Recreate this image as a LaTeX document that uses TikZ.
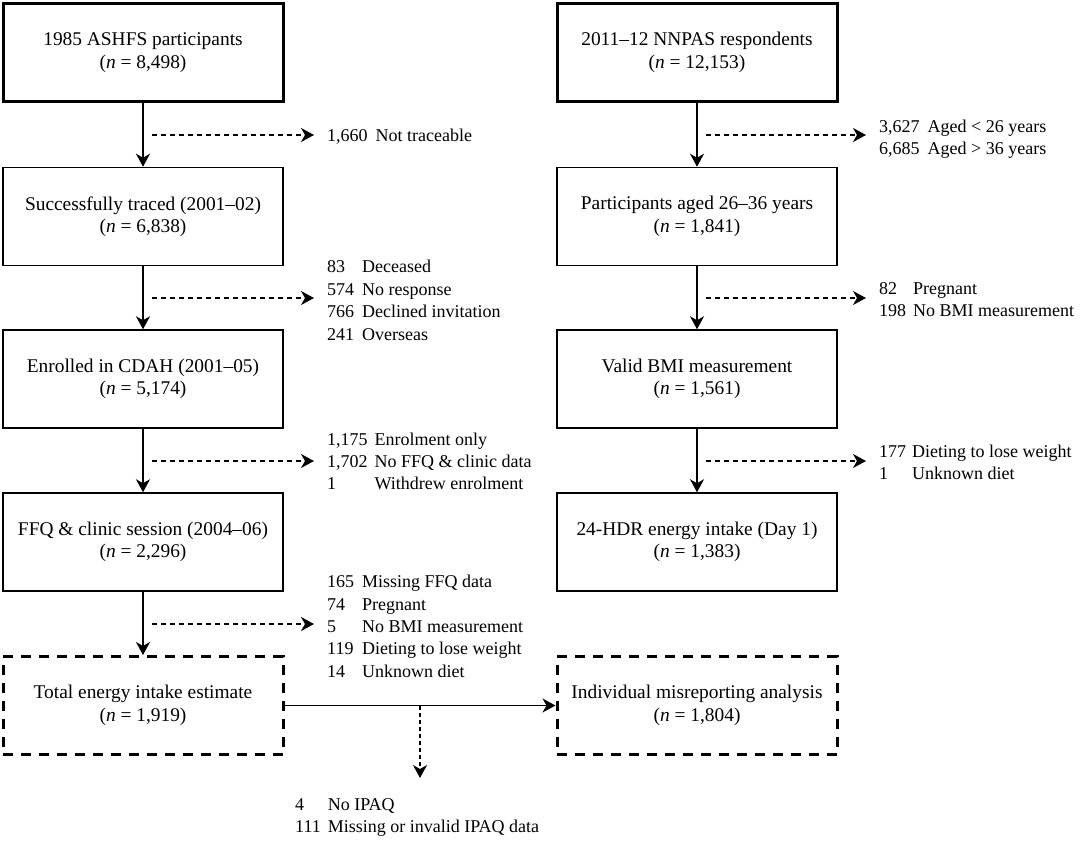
\documentclass[tikz,border=0pt]{standalone}
\usepackage{fontspec}
\setmainfont{Liberation Serif}
\usetikzlibrary{arrows.meta}
\begin{document}
\begin{tikzpicture}[x=1pt,y=-1pt,
  txt/.style={font=\fontsize{19.4}{22.4}\selectfont},
  box/.style={draw, line width=1.5pt, minimum width=280pt, minimum height=98pt, align=center, inner sep=0pt, txt},
  thickbox/.style={box, line width=3pt},
  dbox/.style={box, line width=3pt, dash pattern=on 10pt off 8pt},
  flow/.style={line width=1.5pt, -{Stealth[length=13pt,width=14pt,inset=4pt]}},
  excl/.style={line width=1.3pt, dash pattern=on 5pt off 4pt, -{Stealth[length=13pt,width=14pt,inset=4pt]}},
  lst/.style={anchor=west, inner sep=0pt, font=\fontsize{18}{22.4}\selectfont}]
\useasboundingbox (0,0) rectangle (1084,847);
\fill[white] (0,0) rectangle (1084,847);

% left column
\node[thickbox] (L1) at (143,52.5) {1985 ASHFS participants\\(\textit{n} = 8,498)};
\node[box] (L2) at (143,216.5) {Successfully traced (2001--02)\\(\textit{n} = 6,838)};
\node[box] (L3) at (143,379) {Enrolled in CDAH (2001--05)\\(\textit{n} = 5,174)};
\node[box] (L4) at (143,542) {FFQ \& clinic session (2004--06)\\(\textit{n} = 2,296)};
\node[dbox] (L5) at (143,705.5) {Total energy intake estimate\\(\textit{n} = 1,919)};

% right column
\node[thickbox] (R1) at (697,52.5) {2011--12 NNPAS respondents\\(\textit{n} = 12,153)};
\node[box] (R2) at (697,216.5) {Participants aged 26--36 years\\(\textit{n} = 1,841)};
\node[box] (R3) at (697,379) {Valid BMI measurement\\(\textit{n} = 1,561)};
\node[box] (R4) at (697,542) {24-HDR energy intake (Day 1)\\(\textit{n} = 1,383)};
\node[dbox] (R5) at (697,705.5) {Individual misreporting analysis\\(\textit{n} = 1,804)};

% main flow
\draw[flow] (L1) -- (L2);
\draw[flow] (L2) -- (L3);
\draw[flow] (L3) -- (L4);
\draw[flow] (L4) -- (L5);
\draw[flow] (R1) -- (R2);
\draw[flow] (R2) -- (R3);
\draw[flow] (R3) -- (R4);
\draw[flow] (L5) -- (R5);

% exclusion arrows, left
\coordinate (a1s) at (152,135); \coordinate (a1e) at (314,135);
\coordinate (a2s) at (152,298); \coordinate (a2e) at (314,298);
\coordinate (a3s) at (152,461); \coordinate (a3e) at (314,461);
\coordinate (a4s) at (152,624); \coordinate (a4e) at (314,624);
\draw[excl] (a1s) -- (a1e);
\draw[excl] (a2s) -- (a2e);
\draw[excl] (a3s) -- (a3e);
\draw[excl] (a4s) -- (a4e);

% exclusion arrows, right
\coordinate (b1s) at (706,135); \coordinate (b1e) at (866,135);
\coordinate (b2s) at (706,298); \coordinate (b2e) at (866,298);
\coordinate (b3s) at (706,461); \coordinate (b3e) at (866,461);
\draw[excl] (b1s) -- (b1e);
\draw[excl] (b2s) -- (b2e);
\draw[excl] (b3s) -- (b3e);

% bottom dotted arrow
\coordinate (c1s) at (420,705.5); \coordinate (c1e) at (420,778);
\draw[line width=1.2pt, dash pattern=on 4pt off 3pt, -{Stealth[length=13pt,width=14pt,inset=4pt]}] (c1s) -- (c1e);

% exclusion lists
\node[lst] (t1) at (327,137) {\begin{tabular}{@{}l@{\hspace{8pt}}l@{}}1,660 & Not traceable\end{tabular}};
\node[lst] (t2) at (327,302) {\begin{tabular}{@{}l@{\hspace{8pt}}l@{}}83 & Deceased\\574 & No response\\766 & Declined invitation\\241 & Overseas\end{tabular}};
\node[lst] (t3) at (327,463) {\begin{tabular}{@{}l@{\hspace{7pt}}l@{}}1,175 & Enrolment only\\1,702 & No FFQ \& clinic data\\1 & Withdrew enrolment\end{tabular}};
\node[lst] (t4) at (327,628) {\begin{tabular}{@{}l@{\hspace{8pt}}l@{}}165 & Missing FFQ data\\74 & Pregnant\\5 & No BMI measurement\\119 & Dieting to lose weight\\14 & Unknown diet\end{tabular}};

\node[lst] (u1) at (879,139) {\begin{tabular}{@{}l@{\hspace{8pt}}l@{}}3,627 & Aged < 26 years\\6,685 & Aged > 36 years\end{tabular}};
\node[lst] (u2) at (879,301) {\begin{tabular}{@{}l@{\hspace{7pt}}l@{}}82 & Pregnant\\198 & No BMI measurement\end{tabular}};
\node[lst] (u3) at (879,464) {\begin{tabular}{@{}l@{\hspace{6pt}}l@{}}177 & Dieting to lose weight\\1 & Unknown diet\end{tabular}};

\node[lst] (v1) at (295,817) {\begin{tabular}{@{}l@{\hspace{7pt}}l@{}}4 & No IPAQ\\111 & Missing or invalid IPAQ data\end{tabular}};
\end{tikzpicture}
\end{document}
